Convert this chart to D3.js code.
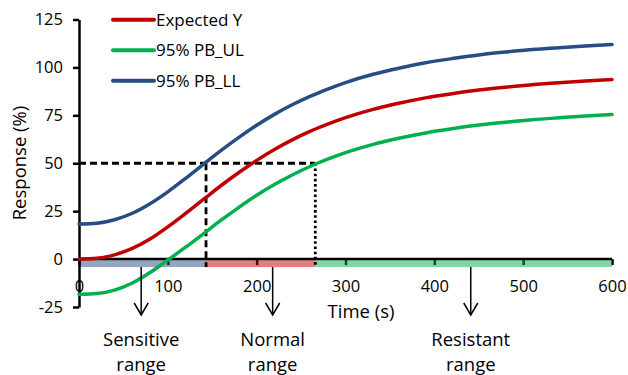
<!DOCTYPE html>
<html>
<head>
<meta charset="utf-8">
<script src="https://cdn.jsdelivr.net/npm/d3@7"></script>
<style>
  body { margin: 0; background: #fff; }
  svg { display: block; font-family: "Open Sans", sans-serif; }
</style>
</head>
<body>
<svg id="chart"></svg>
<script>
const width = 628;
const height = 375;

// tempo (s) e curve
const times    = [0, 20, 40, 60, 80, 100, 120, 140, 160, 180, 200, 220, 240, 260, 280, 300, 330, 360, 390, 420, 450, 480, 510, 540, 570, 600];
const expected = [0, 0.4, 2.2, 5.6, 10.5, 16.8, 23.8, 31.1, 38.4, 45.2, 51.5, 57.2, 62.2, 66.6, 70.4, 73.8, 78.0, 81.3, 84.1, 86.3, 88.2, 89.7, 91.0, 92.0, 92.9, 93.7];
const pbUL     = [-18.4, -18.0, -16.2, -12.5, -7.0, -0.5, 6.2, 13.2, 20.3, 27.0, 33.3, 38.9, 43.9, 48.3, 52.1, 55.5, 59.7, 63.0, 65.8, 68.0, 69.9, 71.4, 72.7, 73.7, 74.6, 75.4];
const pbLL     = [18.3, 18.7, 20.5, 23.9, 28.9, 35.1, 42.1, 49.4, 56.7, 63.5, 69.8, 75.5, 80.5, 84.9, 88.7, 92.1, 96.3, 99.6, 102.4, 104.6, 106.5, 108.0, 109.3, 110.3, 111.2, 112.0];

const seriesNames  = ["Expected Y", "95% PB_UL", "95% PB_LL"];
const seriesColors = ["#c00000", "#00b050", "#254e83"];
const seriesValues = [expected, pbUL, pbLL];

const xTicks = [0, 100, 200, 300, 400, 500, 600];
const yTicks = [-25, 0, 25, 50, 75, 100, 125];

// limiti dei tre intervalli (s) e soglia al 50%
const rangeBreaks = [0, 143, 266, 600];
const rangeNames  = [["Sensitive", "range"], ["Normal", "range"], ["Resistant", "range"]];
const arrowTimes  = [70, 218, 441];
const threshold   = 50;

const x = d3.scaleLinear().domain([0, 600]).range([79, 612]);
const y = d3.scaleLinear().domain([-25, 125]).range([307, 19.5]);

const svg = d3.select('#chart')
  .attr('width', width)
  .attr('height', height);

// Asse X (tick verso il basso, sotto la banda colorata)
const xAxis = svg.append('g')
  .attr('transform', `translate(0,${y(0)})`)
  .call(d3.axisBottom(x).tickValues(xTicks).tickSize(6).tickSizeOuter(0).tickPadding(15)
    .tickFormat(d => String(d)));
xAxis.selectAll('line').attr('stroke', '#000').attr('stroke-width', 2.5);
xAxis.selectAll('text').attr('font-size', 16.5).attr('fill', '#000')
  .attr('font-family', '"Open Sans", sans-serif');
xAxis.select('.domain').remove();

// Bande colorate degli intervalli
svg.append('g')
  .selectAll('rect')
  .data(d3.pairs(rangeBreaks))
  .join('rect')
    .attr('x', d => x(d[0]))
    .attr('width', d => x(d[1]) - x(d[0]))
    .attr('y', y(0) + 1)
    .attr('height', 7)
    .attr('fill', (d, i) => [seriesColors[2], seriesColors[0], seriesColors[1]][i])
    .attr('opacity', 0.5);

// linea dell'asse X sopra le bande
svg.append('line')
  .attr('x1', x(0)).attr('x2', x(600))
  .attr('y1', y(0)).attr('y2', y(0))
  .attr('stroke', '#000').attr('stroke-width', 2.5);

// Asse Y
const yAxis = svg.append('g')
  .attr('transform', `translate(${x(0)},0)`)
  .call(d3.axisLeft(y).tickValues(yTicks).tickSize(6).tickSizeOuter(0).tickPadding(10)
    .tickFormat(d => String(d)));
yAxis.select('.domain').attr('stroke', '#000').attr('stroke-width', 2.5);
yAxis.selectAll('line').attr('stroke', '#000').attr('stroke-width', 2.5);
yAxis.selectAll('text').attr('font-size', 16.5).attr('fill', '#000')
  .attr('font-family', '"Open Sans", sans-serif');

// Linee di riferimento al 50%
svg.append('line')
  .attr('x1', x(0)).attr('x2', x(rangeBreaks[2]))
  .attr('y1', y(threshold)).attr('y2', y(threshold))
  .attr('stroke', '#000').attr('stroke-width', 2.8)
  .attr('stroke-dasharray', '7,4');
svg.append('line')
  .attr('x1', x(rangeBreaks[1])).attr('x2', x(rangeBreaks[1]))
  .attr('y1', y(threshold)).attr('y2', y(0) + 8)
  .attr('stroke', '#000').attr('stroke-width', 2.8)
  .attr('stroke-dasharray', '7,4');
svg.append('line')
  .attr('x1', x(rangeBreaks[2])).attr('x2', x(rangeBreaks[2]))
  .attr('y1', y(threshold)).attr('y2', y(0) + 8)
  .attr('stroke', '#000').attr('stroke-width', 2.8)
  .attr('stroke-dasharray', '2.6,2.6');

// Curve
const line = d3.line()
  .x((d, i) => x(times[i]))
  .y(d => y(d))
  .curve(d3.curveMonotoneX);

svg.append('g')
  .selectAll('path')
  .data(seriesValues)
  .join('path')
    .attr('d', d => line(d))
    .attr('fill', 'none')
    .attr('stroke', (d, i) => seriesColors[i])
    .attr('stroke-width', 3.5)
    .attr('stroke-linecap', 'round');

// Legenda
const legend = svg.append('g')
  .selectAll('g')
  .data(seriesNames)
  .join('g')
    .attr('transform', (d, i) => `translate(113,${19.7 + i * 30.5})`);
legend.append('line')
  .attr('x1', 0).attr('x2', 41)
  .attr('stroke', (d, i) => seriesColors[i])
  .attr('stroke-width', 4)
  .attr('stroke-linecap', 'round');
legend.append('text')
  .attr('x', 43)
  .attr('dy', '0.36em')
  .attr('font-size', 17)
  .text(d => d);

// Titoli degli assi
svg.append('text')
  .attr('x', 361).attr('y', 318)
  .attr('text-anchor', 'middle')
  .attr('font-size', 18.5)
  .text('Time (s)');

svg.append('text')
  .attr('transform', 'translate(26,163) rotate(-90)')
  .attr('text-anchor', 'middle')
  .attr('font-size', 18.5)
  .text('Response (%)');

// Frecce e nomi degli intervalli
const arrows = svg.append('g')
  .selectAll('g')
  .data(arrowTimes)
  .join('g')
    .attr('transform', d => `translate(${x(d)},0)`);
arrows.append('line')
  .attr('y1', y(0) + 8).attr('y2', 315)
  .attr('stroke', '#000').attr('stroke-width', 1.5);
arrows.append('path')
  .attr('d', 'M-7,303L0,315L7,303')
  .attr('fill', 'none')
  .attr('stroke', '#000').attr('stroke-width', 1.5);
arrows.append('text')
  .attr('text-anchor', 'middle')
  .attr('font-size', 18.5)
  .selectAll('tspan')
  .data((d, i) => rangeNames[i])
  .join('tspan')
    .attr('x', 0)
    .attr('y', (d, j) => 346 + j * 25)
    .text(d => d);
</script>
</body>
</html>
